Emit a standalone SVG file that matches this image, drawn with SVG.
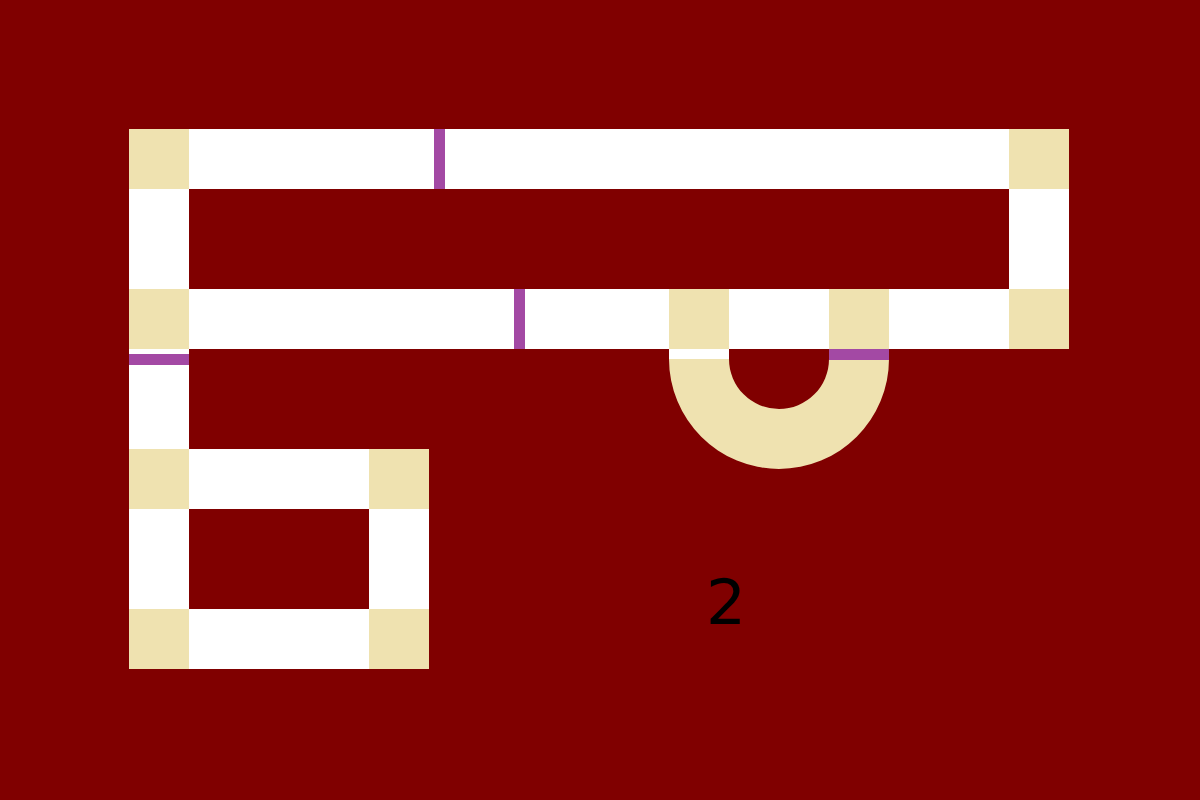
<svg xmlns="http://www.w3.org/2000/svg" width="1200" height="800" viewBox="0 0 1200 800">
<style>
.w{fill:#ffffff}
.t{fill:#efe2b0}
.p{fill:#a349a4}
.lbl{font-family:"DejaVu Sans",sans-serif;font-size:63px;fill:#000000}
</style>
<rect width="1200" height="800" fill="#800000"/>
<g id="straights">
<rect class="w" x="189" y="129" width="820" height="60"/>
<rect class="w" x="129" y="189" width="60" height="100"/>
<rect class="w" x="1009" y="189" width="60" height="100"/>
<rect class="w" x="189" y="289" width="480" height="60"/>
<rect class="w" x="729" y="289" width="100" height="60"/>
<rect class="w" x="889" y="289" width="120" height="60"/>
<rect class="w" x="129" y="349" width="60" height="100"/>
<rect class="w" x="189" y="449" width="180" height="60"/>
<rect class="w" x="129" y="509" width="60" height="100"/>
<rect class="w" x="369" y="509" width="60" height="100"/>
<rect class="w" x="189" y="609" width="180" height="60"/>
<rect class="w" x="669" y="349" width="60" height="10"/>
</g>
<g id="loop">
<path class="t" d="M669,359 A110,110 0 0 0 889,359 L829,359 A50,50 0 0 1 729,359 Z"/>
</g>
<g id="corners">
<rect class="t" x="129" y="129" width="60" height="60"/>
<rect class="t" x="1009" y="129" width="60" height="60"/>
<rect class="t" x="129" y="289" width="60" height="60"/>
<rect class="t" x="669" y="289" width="60" height="60"/>
<rect class="t" x="829" y="289" width="60" height="60"/>
<rect class="t" x="1009" y="289" width="60" height="60"/>
<rect class="t" x="129" y="449" width="60" height="60"/>
<rect class="t" x="369" y="449" width="60" height="60"/>
<rect class="t" x="129" y="609" width="60" height="60"/>
<rect class="t" x="369" y="609" width="60" height="60"/>
</g>
<g id="markers">
<rect class="p" x="434" y="129" width="11" height="60"/>
<rect class="p" x="514" y="289" width="11" height="60"/>
<rect class="p" x="129" y="354" width="60" height="11"/>
<rect class="p" x="829" y="349" width="60" height="11"/>
</g>
<g id="label">
<text class="lbl" x="726" y="624" text-anchor="middle">2</text>
</g>
</svg>
